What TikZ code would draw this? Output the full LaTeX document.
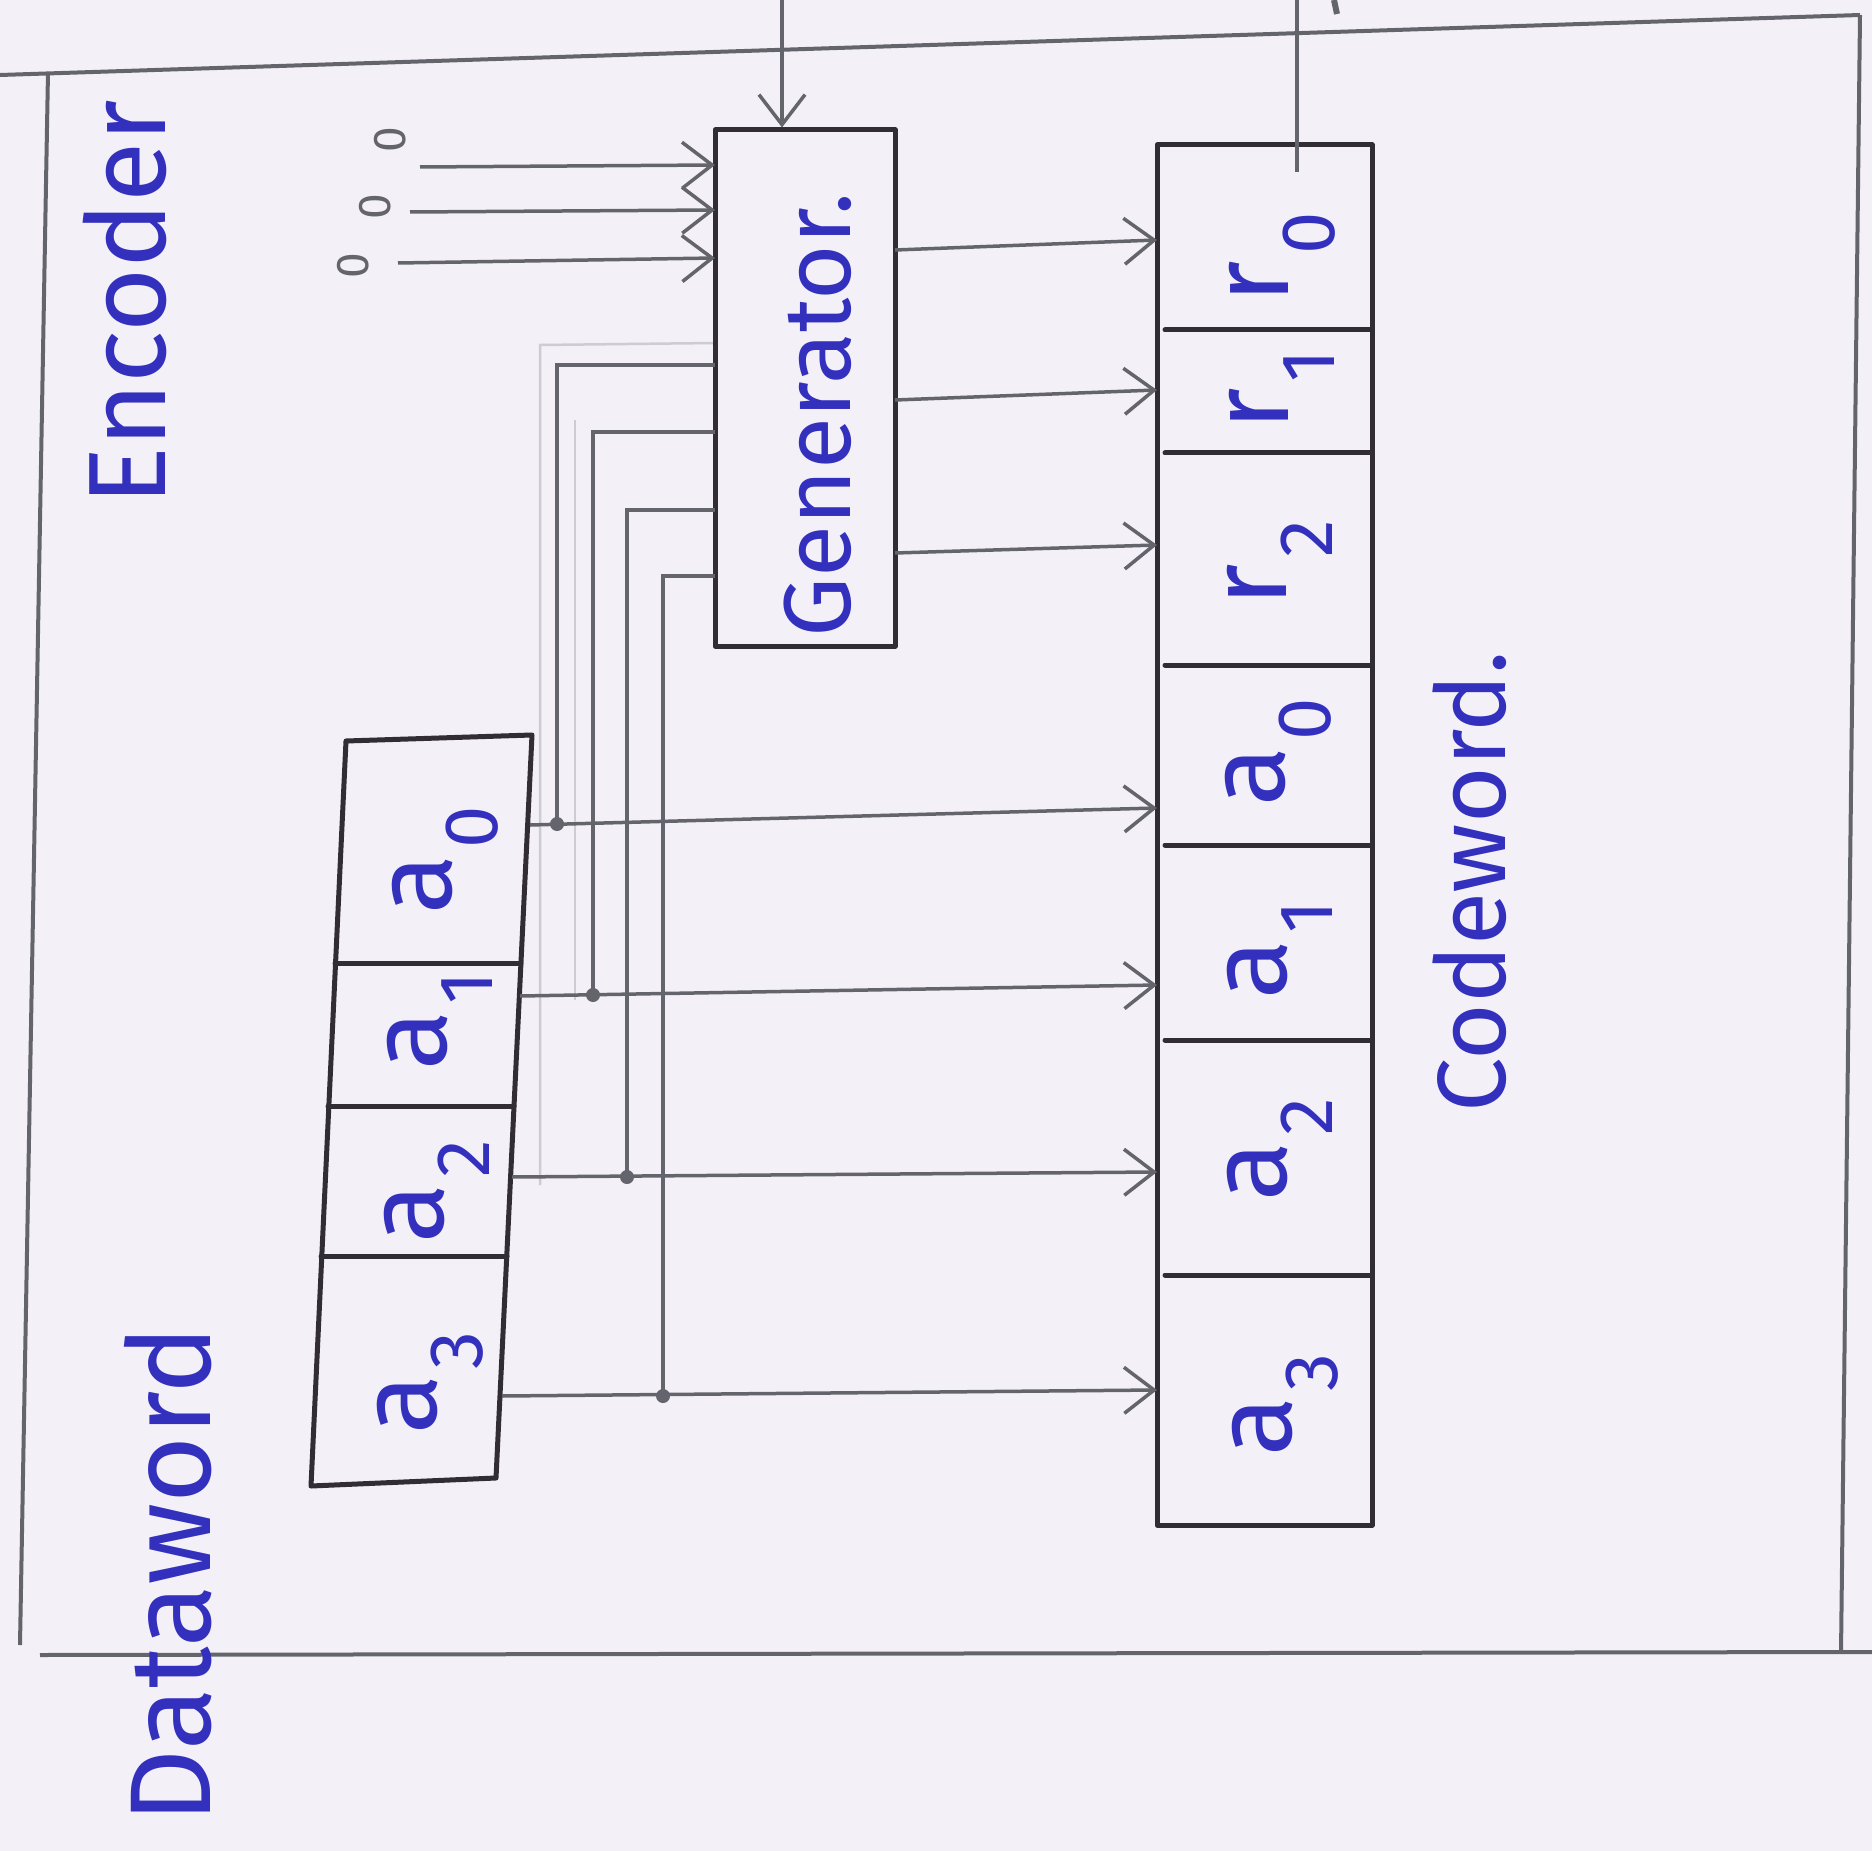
\documentclass[tikz,border=0pt]{standalone}
\usepackage{fontspec}
\setmainfont{Fira Sans}
\usetikzlibrary{arrows.meta}
\definecolor{paper}{RGB}{243,241,247}
\definecolor{ink}{RGB}{52,48,190}
\definecolor{pencil}{RGB}{100,100,108}
\definecolor{dark}{RGB}{50,45,52}
\definecolor{faintline}{RGB}{205,203,212}
\newcommand\sbs[1]{\kern6pt\raisebox{-46pt}{\fontsize{76}{76}\selectfont #1}}
\begin{document}
\begin{tikzpicture}[x=1pt,y=-1pt,
  frameline/.style={draw=pencil, line width=4pt},
  boxline/.style={draw=dark, line width=5pt, line join=round, line cap=round},
  wire/.style={draw=pencil, line width=3.5pt},
  arr/.style={wire, -{Straight Barb[length=30pt,width=46pt,line width=3.5pt]}},
  lbl/.style={text=ink, rotate=90, inner sep=0pt},
  cell/.style={lbl, font=\fontsize{110}{110}\selectfont},
  zero/.style={text=pencil, rotate=90, inner sep=0pt, font=\fontsize{46}{46}\selectfont},
  junc/.style={circle, fill=pencil, inner sep=0pt, minimum size=14pt},
]
\fill[paper] (0,0) rectangle (1872,1851);
\useasboundingbox (0,0) rectangle (1872,1851);

% encoder frame
\draw[frameline] (0,75) -- (1860,15);
\draw[frameline] (48,72) -- (20,1645);
\draw[frameline] (40,1655) -- (1872,1652);
\draw[frameline] (1860,15) -- (1841,1653);

% faint erased pencil lines
\draw[faintline, line width=2.5pt] (540,1185) -- (540,345) -- (715,343);
\draw[faintline, line width=2pt] (575,1000) -- (575,420);

% generator box
\node[boxline, minimum width=180pt, minimum height=516pt, inner sep=0pt] (gen) at (805,388) {};
\node[lbl, font=\fontsize{95}{95}\selectfont] (gentext) at (818,415) {Generator.};

% codeword box
\node[boxline, minimum width=215pt, minimum height=1380pt, inner sep=0pt] (cw) at (1264.5,835) {};
\foreach \yy in {330,453,665,845,1040,1275} \draw[boxline] (1165,\yy) -- (1372,\yy);

% dataword box
\coordinate (dwTL) at (346,741);
\coordinate (dwTR) at (532,735);
\coordinate (dwBR) at (496,1478);
\coordinate (dwBL) at (311,1486);
\draw[boxline] (dwTL) -- (dwTR) -- (dwBR) -- (dwBL) -- cycle;
\draw[boxline] (335,963) -- (521,963);
\draw[boxline] (328,1106) -- (514,1106);
\draw[boxline] (321,1256) -- (507,1256);

% dataword labels
\node[cell] (d0) at (445,860) {a\sbs{0}};
\node[cell] (d1) at (440,1021) {a\sbs{1}};
\node[cell] (d2) at (437,1192) {a\sbs{2}};
\node[cell] (d3) at (430,1383) {a\sbs{3}};

% codeword labels
\node[cell] (c_r0) at (1282,258) {r\sbs{0}};
\node[cell] (c_r1) at (1282,390) {r\sbs{1}};
\node[cell] (c_r2) at (1280,563) {r\sbs{2}};
\node[cell] (c_a0) at (1278,752) {a\sbs{0}};
\node[cell] (c_a1) at (1280,950) {a\sbs{1}};
\node[cell] (c_a2) at (1280,1150) {a\sbs{2}};
\node[cell] (c_a3) at (1285,1405) {a\sbs{3}};

% titles
\node[lbl, font=\fontsize{110}{110}\selectfont] (enc) at (125,303) {Encoder};
\node[lbl, font=\fontsize{115}{115}\selectfont] (dw) at (168,1575) {Dataword};
\node[lbl, font=\fontsize{97}{97}\selectfont] (cwtext) at (1470,882) {Codeword.};

% zero inputs
\node[zero] (z0) at (390,140) {0};
\node[zero] (z1) at (375,207) {0};
\node[zero] (z2) at (353,266) {0};
\coordinate (zs0) at (420,167); \coordinate (gz0) at (715,165);
\coordinate (zs1) at (410,212); \coordinate (gz1) at (715,210);
\coordinate (zs2) at (398,263); \coordinate (gz2) at (715,258);
\draw[arr] (zs0) -- (gz0);
\draw[arr] (zs1) -- (gz1);
\draw[arr] (zs2) -- (gz2);

% top input to generator
\coordinate (tin) at (782,0);
\draw[arr] (tin) -- (gen.north -| tin);

% codeword output
\coordinate (cout) at (1297,0);
\coordinate (cb) at (1297,172);
\draw[wire] (cb) -- (cout);
\draw[wire, line width=6pt] (1334,0) -- (1337,14);

% data lines to codeword
\coordinate (dw0) at (530,825); \coordinate (cw0) at (1157,808);
\coordinate (dw1) at (520,996); \coordinate (cw1) at (1157,985);
\coordinate (dw2) at (512,1177); \coordinate (cw2) at (1157,1172);
\coordinate (dw3) at (502,1396); \coordinate (cw3) at (1157,1390);
\draw[arr] (dw0) -- (cw0);
\draw[arr] (dw1) -- (cw1);
\draw[arr] (dw2) -- (cw2);
\draw[arr] (dw3) -- (cw3);

% junctions and feedback wires to generator
\node[junc] (j0) at (557,824) {};
\node[junc] (j1) at (593,995) {};
\node[junc] (j2) at (627,1177) {};
\node[junc] (j3) at (663,1396) {};
\coordinate (gin0) at (715,365);
\coordinate (gin1) at (715,432);
\coordinate (gin2) at (715,510);
\coordinate (gin3) at (715,576);
\draw[wire] (j0.center) |- (gin0);
\draw[wire] (j1.center) |- (gin1);
\draw[wire] (j2.center) |- (gin2);
\draw[wire] (j3.center) |- (gin3);

% generator outputs to codeword
\coordinate (go0) at (895,250); \coordinate (ci0) at (1157,240);
\coordinate (go1) at (895,400); \coordinate (ci1) at (1157,390);
\coordinate (go2) at (895,553); \coordinate (ci2) at (1157,545);
\draw[arr] (go0) -- (ci0);
\draw[arr] (go1) -- (ci1);
\draw[arr] (go2) -- (ci2);
\end{tikzpicture}
\end{document}
